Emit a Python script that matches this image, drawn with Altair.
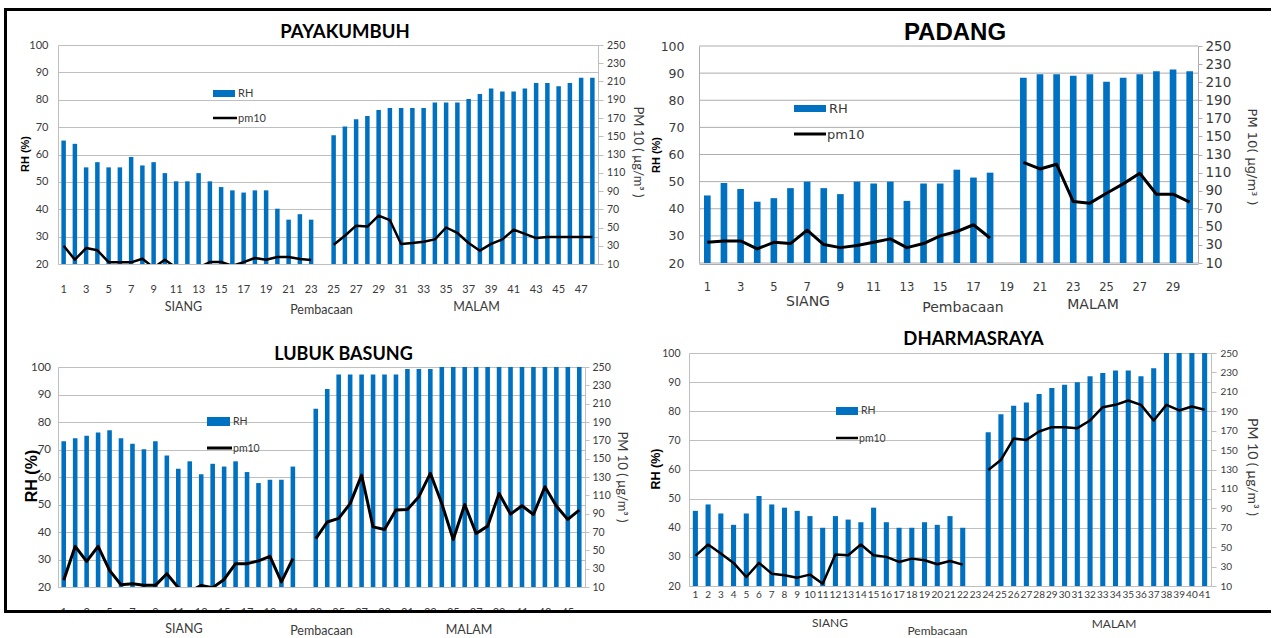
import altair as alt
import pandas as pd

BLUE = "#0070C0"
GRID = "#BFBFBF"
INK = "#3a3a3a"
LATO = "Lato"
DJV = "DejaVu Sans"
ARIAL = "Liberation Sans"
NARROW = "'Liberation Sans Narrow', Lato"

RH_TICKS = list(range(20, 101, 10))
PM_TICKS = list(range(10, 251, 20))

# PAYAKUMBUH: readings 1-48, no reading 24 (day -> night)
pk_rh = [65.1, 63.9, 55.3, 57.2, 55.3, 55.3, 59.1, 56.0, 57.2, 53.2, 50.2, 50.2,
         53.2, 50.2, 48.1, 46.9, 46.1, 46.9, 46.9, 40.2, 36.2, 38.2, 36.2, None,
         67.0, 70.2, 72.9, 74.1, 76.3, 77.0, 77.0, 77.0, 77.0, 79.0, 79.0, 79.0,
         80.3, 82.1, 84.1, 83.0, 83.0, 84.1, 86.1, 86.1, 84.9, 86.1, 88.0, 88.0]
pk_pm = [30, 14.7, 27.5, 25, 12, 12, 11.8, 15.8, 6, 14.7, 6, 6,
         6, 12.2, 12.2, 8, 12, 16.6, 14.7, 17.7, 17.7, 15.5, 14.4, None,
         31, 41, 52, 51, 63, 58, 32, 33, 34.4, 37, 50, 44,
         33, 24.6, 32, 37, 47.6, 43, 38.4, 39.5, 39.5, 39.5, 39.5, 39.5]

# PADANG: readings 1-30, no reading 19
pd_rh = [44.9, 49.5, 47.3, 42.6, 43.9, 47.6, 50.0, 47.6, 45.4, 50.0, 49.3, 50.0,
         42.9, 49.3, 49.3, 54.4, 51.5, 53.3, None, 88.3, 89.6, 89.6, 89.0, 89.6,
         86.8, 88.3, 89.6, 90.7, 91.3, 90.7]
pd_pm = [32.9, 34.4, 34.4, 25.6, 32.9, 31.5, 46.3, 30.4, 27.0, 29.3, 32.9, 36.7,
         27.0, 31.5, 40.0, 44.8, 52.3, 37.6, None, 121.4, 114.0, 119.2, 78.0, 76.2,
         87.2, 97.5, 109.2, 86.1, 86.1, 77.3]

# LUBUK BASUNG: readings 1-46, no reading 22
lb_rh = [73.0, 74.1, 75.0, 76.2, 77.0, 74.1, 72.1, 70.1, 73.0, 67.8, 63.0, 65.7,
         61.0, 64.8, 63.8, 65.7, 61.8, 57.8, 59.0, 59.0, 63.8, None, 84.8, 92.0,
         97.3, 97.3, 97.3, 97.3, 97.3, 97.3, 99.3, 99.3, 99.3, 100, 100, 100,
         100, 100, 100, 100, 100, 100, 100, 100, 100, 100]
lb_pm = [17.3, 54.4, 37.9, 54.4, 28.2, 12.5, 13.6, 11.8, 11.8, 24.5, 9.3, 5,
         11.8, 9.3, 18.2, 35.5, 35.5, 38.5, 43.5, 15.5, 40.9, None, 62.7, 80.9,
         84.8, 101, 132, 75.6, 72.7, 93.9, 94.6, 108.5, 134, 101, 61.8, 100,
         68.3, 76.4, 112, 89.5, 98.6, 89.1, 119.4, 98.3, 83.7, 93.9]

# DHARMASRAYA: readings 1-41, no reading 23
dh_rh = [45.8, 48.0, 44.9, 41.0, 44.9, 50.9, 48.0, 46.9, 45.8, 44.0, 40.0, 44.0,
         42.8, 41.9, 46.9, 41.9, 40.0, 40.0, 41.9, 41.0, 44.0, 40.0, None, 72.8,
         79.0, 81.9, 83.0, 85.9, 88.0, 89.1, 90.0, 92.0, 93.1, 94.0, 94.0, 92.0,
         94.8, 100, 100, 100, 100]
dh_pm = [41, 52.7, 43.4, 33.8, 19.3, 33.8, 22.7, 21, 18.6, 21.7, 12.4, 42.4,
         41.7, 52.7, 41.7, 40, 34.8, 38.2, 36.5, 32.4, 35.8, 32, None, 129.5,
         139.8, 161.9, 160.5, 169.1, 173.6, 173.6, 172.6, 180.5, 194.2, 196.6, 201.1, 196.6,
         180.5, 196.6, 190.8, 194.9, 191.5]

PM_TITLE = "PM 10 ( \u00b5g/m\u00b3 )"


def table(rh, pm):
    n = len(rh)
    cut = rh.index(None) + 1
    return pd.DataFrame({
        "no": list(range(1, n + 1)),
        "rh": rh,
        "pm": pm,
        "part": ["siang" if i < cut else "malam" for i in range(1, n + 1)],
    })


ONE = alt.Data(values=[{"k": 0}])


def label(text, x, y, size, font=LATO, weight="normal", angle=0,
          align="center", baseline="middle", color=INK):
    return alt.Chart(ONE).mark_text(
        text=text, font=font, fontSize=size, fontWeight=weight, angle=angle,
        align=align, baseline=baseline, color=color,
    ).encode(x=alt.value(x), y=alt.value(y))


def box(x, x2, y, y2, color):
    return alt.Chart(ONE).mark_rect(color=color).encode(
        x=alt.value(x), x2=alt.value(x2), y=alt.value(y), y2=alt.value(y2))


def stroke(x, x2, y, width):
    return alt.Chart(ONE).mark_rule(color="black", strokeWidth=width).encode(
        x=alt.value(x), x2=alt.value(x2), y=alt.value(y))


def legend(rx, ry, lx, ly, size, font, line_w):
    # rx: (x0, x1) of the swatch, ry: (y0, y1); lx/ly: line legend
    return [
        box(rx[0], rx[1], ry[0], ry[1], BLUE),
        label("RH", rx[1] + 3, (ry[0] + ry[1]) / 2, size, font, align="left"),
        stroke(lx[0], lx[1], ly, line_w),
        label("pm10", lx[1] + 1, ly + 1, size, font, align="left"),
    ]


def panel(df, width, height, *, x_values, x_font, x_size, x_pad,
          l_font, l_size, l_pad, r_font, r_size, r_pad, r_tick,
          line_w, grid_color=GRID, xrange=None, yrange=None,
          left_offset=0, own_grid=False, extras=()):
    n = len(df)
    xs = dict(domain=list(range(1, n + 1)), paddingInner=0.6, paddingOuter=0.3)
    if xrange:
        xs["range"] = xrange
    x = alt.X("no:O", scale=alt.Scale(**xs), axis=alt.Axis(
        values=x_values, title=None, labelAngle=0, ticks=False, tickSize=0,
        grid=False, domainColor=grid_color, labelFont=x_font,
        labelFontSize=x_size, labelColor=INK, labelPadding=x_pad,
        labelOverlap=False))

    rh_sc = dict(domain=[20, 100], zero=False, nice=False)
    pm_sc = dict(domain=[10, 250], zero=False, nice=False)
    if yrange:
        rh_sc["range"] = yrange
        pm_sc["range"] = yrange

    left_kw = dict(orient="left", values=RH_TICKS, title=None, ticks=False,
                   tickSize=0, grid=not own_grid, gridColor=grid_color,
                   domainColor=grid_color, labelFont=l_font, labelFontSize=l_size,
                   labelColor=INK, labelPadding=l_pad, labelOverlap=False)
    if left_offset:
        left_kw["offset"] = left_offset

    layers = []
    if own_grid:
        x0, x1 = xrange
        layers.append(
            alt.Chart(pd.DataFrame({"v": RH_TICKS})).mark_rule(
                color=grid_color, strokeWidth=1).encode(
                y=alt.Y("v:Q", scale=alt.Scale(**rh_sc), axis=None),
                x=alt.value(x0), x2=alt.value(x1)))

    bars = alt.Chart(df).transform_filter("isValid(datum.rh)").mark_bar(
        color=BLUE, clip=True).encode(
        x=x,
        y=alt.Y("rh:Q", scale=alt.Scale(**rh_sc), axis=alt.Axis(**left_kw)),
        y2=alt.datum(20),
    )
    line = alt.Chart(df).transform_filter("isValid(datum.pm)").mark_line(
        color="black", strokeWidth=line_w, clip=True, strokeJoin="round").encode(
        x=x,
        y=alt.Y("pm:Q", scale=alt.Scale(**pm_sc), axis=alt.Axis(
            orient="right", values=PM_TICKS, title=None, grid=False,
            ticks=True, tickSize=r_tick, tickColor=grid_color,
            domainColor=grid_color, labelFont=r_font, labelFontSize=r_size,
            labelColor=INK, labelPadding=r_pad, labelOverlap=False)),
        detail="part:N",
    )
    layers += [bars, line] + list(extras)
    return alt.layer(*layers).resolve_scale(y="independent").properties(
        width=width, height=height)


# ---------------- PAYAKUMBUH (origin 58,45) ----------------
p1 = panel(
    table(pk_rh, pk_pm), 540, 219,
    x_values=list(range(1, 48, 2)), x_font=LATO, x_size=11, x_pad=19,
    l_font=LATO, l_size=11, l_pad=10, r_font=LATO, r_size=10.5, r_pad=3.5, r_tick=5,
    line_w=2.5,
    extras=[
        label("PAYAKUMBUH", 287, -7, 18.5, weight="bold", baseline="alphabetic", color="black"),
        label("RH (%)", -32, 109, 11, ARIAL, weight="bold", angle=270, color="black"),
        label(PM_TITLE, 580, 107, 13, angle=90),
        label("SIANG", 125.5, 262, 12.5),
        label("Pembacaan", 263.5, 265, 12.5),
        label("MALAM", 418.5, 262, 12.5),
    ] + legend((155, 177), (45, 52), (155, 179), 73, 11, LATO, 2.5),
)

# ---------------- PADANG (column origin 689,45; plot from 699) ----------------
p2 = panel(
    table(pd_rh, pd_pm), 509, 219,
    x_values=list(range(1, 30, 2)), x_font=DJV, x_size=11.5, x_pad=17,
    l_font=DJV, l_size=12.5, l_pad=15, r_font=DJV, r_size=13.5, r_pad=3, r_tick=4,
    line_w=3, grid_color="#ADADAD", xrange=[10, 509], yrange=[218, 1],
    left_offset=-10, own_grid=True,
    extras=[
        label("PADANG", 266, -5, 24, ARIAL, weight="bold", baseline="alphabetic", color="black"),
        label("RH (%)", -32, 110, 11, ARIAL, weight="bold", angle=270, color="black"),
        label("PM 10( \u00b5g/m\u00b3 )", 563, 112, 13, DJV, angle=90),
        label("SIANG", 119, 257, 14, DJV),
        label("Pembacaan", 274, 263, 14, DJV),
        label("MALAM", 404, 260, 14, DJV),
    ] + legend((105, 137), (60, 67), (105, 137), 89, 13, DJV, 3),
)

# ---------------- LUBUK BASUNG (origin 58,353; plot from 367) ----------------
p3 = panel(
    table(lb_rh, lb_pm), 527, 234,
    x_values=list(range(1, 46, 2)), x_font=LATO, x_size=11, x_pad=19,
    l_font=LATO, l_size=11.5, l_pad=7.5, r_font=LATO, r_size=10.5, r_pad=3, r_tick=4,
    line_w=3, yrange=[234, 14],
    extras=[
        label("LUBUK BASUNG", 285.5, 7, 18, weight="bold", baseline="alphabetic", color="black"),
        label("RH (%)", -26, 123, 16, ARIAL, weight="bold", angle=270, color="black"),
        label(PM_TITLE, 564, 124, 13, angle=90),
        label("SIANG", 126, 276, 12.5),
        label("Pembacaan", 263.5, 278, 12.5),
        label("MALAM", 411, 277, 12.5),
    ] + legend((149, 172), (64, 73), (149, 174), 95, 10.5, LATO, 3),
)

# ---------------- DHARMASRAYA (origin 689,353) + outer frame ----------------
p4 = panel(
    table(dh_rh, dh_pm), 522, 233,
    x_values=list(range(1, 42)), x_font=NARROW, x_size=10, x_pad=3,
    l_font=LATO, l_size=10.5, l_pad=9, r_font=LATO, r_size=10, r_pad=4, r_tick=5,
    line_w=2.5,
    extras=[
        label("DHARMASRAYA", 284.5, -8, 18.5, weight="bold", baseline="alphabetic", color="black"),
        label("RH (%)", -33, 116, 12.5, ARIAL, weight="bold", angle=270, color="black"),
        label(PM_TITLE, 563, 114, 14, angle=90),
        label("SIANG", 141, 270, 12),
        label("Pembacaan", 248.5, 278, 12),
        label("MALAM", 425, 271, 12),
    ] + legend((147, 169), (54, 62), (147, 169), 85, 10.5, LATO, 2.5) + [
        # outer frame of the figure
        box(-685, -682, -345, 260, "black"),
        box(-685, 582, -345, -342, "black"),
        box(-685, 582, 257, 260, "black"),
        box(-682, -50, 260, 266, "white"),
    ],
)

chart = alt.concat(
    p1, p2, p3, p4, columns=2, bounds="flush", align="each",
    spacing={"row": 89, "column": 91},
).properties(
    padding={"left": 4, "top": 8, "right": 0, "bottom": 0},
    background="white",
).configure_view(stroke=None)

chart.save("out.html", embed_options={"renderer": "svg", "actions": False})
